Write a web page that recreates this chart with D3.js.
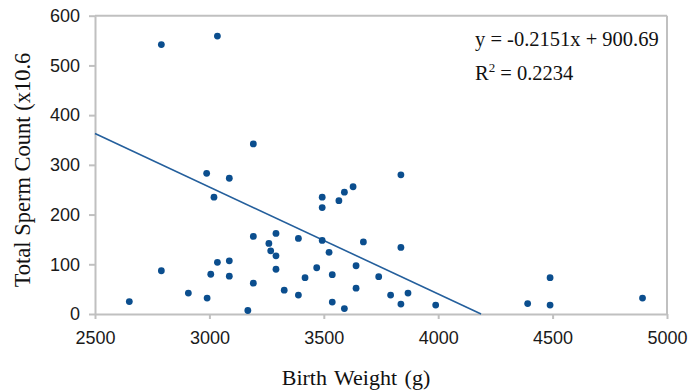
<!DOCTYPE html>
<html>
<head>
<meta charset="utf-8">
<script src="https://cdn.jsdelivr.net/npm/d3@7"></script>
<style>
  html, body { margin: 0; padding: 0; background: #fff; }
  svg { display: block; }
</style>
</head>
<body>
<svg id="chart" width="688" height="390"></svg>
<script>
// Data
const birthWeight = [2650, 2790, 2790, 3035, 2988, 3087, 3020, 3035, 3087, 3006, 3087, 2908, 2990, 3168,
  3192, 3837, 3628, 3590, 3566, 3493, 3493, 3192, 3291, 3260, 3268, 3291, 3389, 3493, 3523, 3673,
  3837, 3641, 3291, 3469, 3537, 3418, 3192, 3327, 3389, 3641, 3740, 3792, 3868, 3837, 3537, 3590,
  3989, 4391, 4489, 4489, 4893];
const spermCount = [25, 87, 542, 559, 283, 273, 235, 104, 107, 80, 76, 42, 32, 7,
  342, 280, 256, 245, 228, 235, 214, 156, 162, 142, 127, 117, 152, 148, 124, 145,
  134, 97, 90, 93, 79, 73, 62, 48, 38, 52, 75, 38, 42, 20, 24, 11,
  18, 21, 73, 18, 32];
const xTicks = [2500, 3000, 3500, 4000, 4500, 5000];
const yTicks = [0, 100, 200, 300, 400, 500, 600];
const trendSlope = -0.2151;
const trendIntercept = 900.69;
const equationText = "y = -0.2151x + 900.69";
const r2Value = "0.2234";
const xTitle = "Birth Weight (g)";
const yTitle = "Total Sperm Count (x10.6";

const svg = d3.select("#chart");
const mLeft = 95, mRight = 667, mTop = 15.7, mBottom = 314;
const x = d3.scaleLinear().domain([2500, 5000]).range([mLeft, mRight]);
const y = d3.scaleLinear().domain([0, 600]).range([mBottom, mTop]);

const axisColor = "#c0c0c0";

// Frame (top and right borders)
svg.append("line").attr("x1", mLeft).attr("x2", mRight).attr("y1", mTop).attr("y2", mTop)
  .attr("stroke", axisColor).attr("stroke-width", 2);
svg.append("line").attr("x1", mRight).attr("x2", mRight).attr("y1", mTop).attr("y2", mBottom)
  .attr("stroke", axisColor).attr("stroke-width", 2);

// X axis
const xAxis = svg.append("g").attr("transform", `translate(0,${mBottom})`)
  .call(d3.axisBottom(x).tickValues(xTicks).tickSize(5).tickSizeOuter(0).tickPadding(12).tickFormat(d3.format("d")));
xAxis.select(".domain").attr("stroke", axisColor).attr("stroke-width", 2);
xAxis.selectAll(".tick line").attr("stroke", axisColor).attr("stroke-width", 2);
xAxis.selectAll(".tick text").attr("font-family", "Liberation Sans, Arial, sans-serif")
  .attr("font-size", 18).attr("fill", "#1a1a1a");

// Y axis
const yAxis = svg.append("g").attr("transform", `translate(${mLeft},0)`)
  .call(d3.axisLeft(y).tickValues(yTicks).tickSize(6).tickSizeOuter(0).tickPadding(9).tickFormat(d3.format("d")));
yAxis.select(".domain").attr("stroke", axisColor).attr("stroke-width", 2);
yAxis.selectAll(".tick line").attr("stroke", axisColor).attr("stroke-width", 2);
yAxis.selectAll(".tick text").attr("font-family", "Liberation Sans, Arial, sans-serif")
  .attr("font-size", 18).attr("fill", "#1a1a1a");

// Trend line from 2500 to where it crosses zero
const xZero = -trendIntercept / trendSlope;
svg.append("line")
  .attr("x1", x(2500)).attr("y1", y(trendSlope * 2500 + trendIntercept))
  .attr("x2", x(xZero)).attr("y2", y(0))
  .attr("stroke", "#245f9c").attr("stroke-width", 1.6);

// Points
svg.append("g").selectAll("circle")
  .data(birthWeight.map((w, i) => ({ w, s: spermCount[i] })))
  .join("circle")
  .attr("cx", d => x(d.w)).attr("cy", d => y(d.s))
  .attr("r", 3.4).attr("fill", "#0b4e8e");

// Equation text
const serif = "Liberation Serif, Times New Roman, serif";
svg.append("text").attr("x", 475).attr("y", 46)
  .attr("font-family", serif).attr("font-size", 20.5).attr("fill", "#111")
  .text(equationText);
const r2 = svg.append("text").attr("x", 475).attr("y", 80)
  .attr("font-family", serif).attr("font-size", 20.5).attr("fill", "#111");
r2.append("tspan").text("R");
r2.append("tspan").attr("font-size", 13).attr("dy", -8).text("2");
r2.append("tspan").attr("dy", 8).text(" = " + r2Value);

// Axis titles
svg.append("text").attr("x", 356).attr("y", 385).attr("text-anchor", "middle")
  .attr("font-family", serif).attr("font-size", 22).attr("word-spacing", 2).attr("fill", "#111")
  .text(xTitle);
svg.append("text").attr("transform", "translate(30,170) rotate(-90)").attr("text-anchor", "middle")
  .attr("font-family", serif).attr("font-size", 22.5).attr("fill", "#111")
  .text(yTitle);
</script>
</body>
</html>
